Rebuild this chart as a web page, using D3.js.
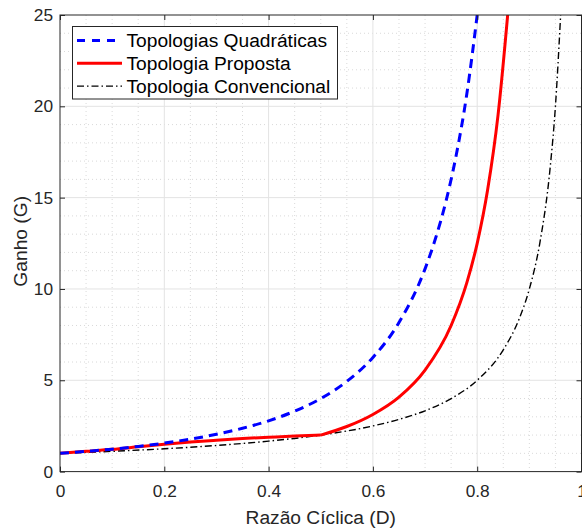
<!DOCTYPE html>
<html>
<head>
<meta charset="utf-8">
<script src="https://cdn.jsdelivr.net/npm/d3@7"></script>
<style>
  body { margin: 0; background: #fff; }
  svg { display: block; font-family: "Liberation Sans", Arial, sans-serif; }
</style>
</head>
<body>
<svg width="582" height="531"></svg>
<script>
// values
const quadD = [0, 0.05, 0.1, 0.15, 0.2, 0.25, 0.3, 0.35, 0.4, 0.45, 0.5, 0.55, 0.6, 0.65, 0.7, 0.72, 0.74, 0.76, 0.78, 0.8]
const quadG = [1, 1.11, 1.23, 1.38, 1.56, 1.78, 2.04, 2.37, 2.78, 3.31, 4.0, 4.94, 6.25, 8.16, 11.1, 12.76, 14.79, 17.36, 20.66, 25.0]

const propD = [0, 0.05, 0.1, 0.15, 0.2, 0.25, 0.3, 0.35, 0.4, 0.45, 0.5, 0.55, 0.6, 0.65, 0.7, 0.75, 0.78, 0.8, 0.82, 0.84, 0.86]
const propG = [1, 1.11, 1.22, 1.36, 1.5, 1.62, 1.72, 1.81, 1.88, 1.95, 2.0, 2.47, 3.13, 4.08, 5.56, 8.0, 10.33, 12.5, 15.43, 19.53, 25.5]

const convD = [0, 0.1, 0.2, 0.3, 0.4, 0.5, 0.6, 0.65, 0.7, 0.75, 0.8, 0.85, 0.88, 0.9, 0.92, 0.94, 0.95, 0.96]
const convG = [1, 1.11, 1.25, 1.43, 1.67, 2.0, 2.5, 2.86, 3.33, 4.0, 5.0, 6.67, 8.33, 10.0, 12.5, 16.67, 20.0, 25.0]

const xTicks = [0, 0.2, 0.4, 0.6, 0.8, 1]
const yTicks = [0, 5, 10, 15, 20, 25]
const legendLabels = ["Topologias Quadráticas", "Topologia Proposta", "Topologia Convencional"]

const svg = d3.select("svg")
const m = { left: 60, right: 581.5, top: 15, bottom: 471.6 }
const axisColor = "#262626"

const x = d3.scaleLinear().domain([0, 1]).range([m.left, m.right])
const y = d3.scaleLinear().domain([0, 25]).range([m.bottom, m.top])

// minor grid
svg.append("g").selectAll("line")
  .data(d3.range(0, 1.0001, 0.05).filter(v => Math.abs(v * 5 - Math.round(v * 5)) > 1e-6))
  .enter().append("line")
    .attr("x1", d => x(d)).attr("x2", d => x(d))
    .attr("y1", m.top).attr("y2", m.bottom)
    .attr("stroke", "#cfcfcf").attr("stroke-width", 0.8).attr("stroke-dasharray", "1,3")
svg.append("g").selectAll("line")
  .data(d3.range(0, 25.001, 1).filter(v => v % 5 !== 0))
  .enter().append("line")
    .attr("y1", d => y(d)).attr("y2", d => y(d))
    .attr("x1", m.left).attr("x2", m.right)
    .attr("stroke", "#cfcfcf").attr("stroke-width", 0.8).attr("stroke-dasharray", "1,3")

// major grid
svg.append("g").selectAll("line")
  .data(xTicks.slice(1, -1))
  .enter().append("line")
    .attr("x1", d => x(d)).attr("x2", d => x(d))
    .attr("y1", m.top).attr("y2", m.bottom)
    .attr("stroke", "#e3e3e3").attr("stroke-width", 1)
svg.append("g").selectAll("line")
  .data(yTicks.slice(1, -1))
  .enter().append("line")
    .attr("y1", d => y(d)).attr("y2", d => y(d))
    .attr("x1", m.left).attr("x2", m.right)
    .attr("stroke", "#e3e3e3").attr("stroke-width", 1)

// curves
svg.append("clipPath").attr("id", "plot")
  .append("rect").attr("x", m.left).attr("y", m.top).attr("width", m.right - m.left).attr("height", m.bottom - m.top)

const line = d3.line().x(d => x(d[0])).y(d => y(d[1])).curve(d3.curveMonotoneX)
const plot = svg.append("g").attr("clip-path", "url(#plot)")

plot.append("path")
  .datum(convD.map((d, i) => [d, convG[i]]))
  .attr("d", line).attr("fill", "none")
  .attr("stroke", "#000").attr("stroke-width", 1.4).attr("stroke-dasharray", "7,3,1.5,3")
plot.append("path")
  .datum(propD.slice(0, 11).map((d, i) => [d, propG[i]]))
  .attr("d", line).attr("fill", "none")
  .attr("stroke", "#ff0000").attr("stroke-width", 3)
plot.append("path")
  .datum(propD.slice(10).map((d, i) => [d, propG[i + 10]]))
  .attr("d", line).attr("fill", "none")
  .attr("stroke", "#ff0000").attr("stroke-width", 3)
plot.append("path")
  .datum(quadD.map((d, i) => [d, quadG[i]]))
  .attr("d", line).attr("fill", "none")
  .attr("stroke", "#0000ff").attr("stroke-width", 3).attr("stroke-dasharray", "9,6")

// box
svg.append("rect")
  .attr("x", m.left).attr("y", m.top).attr("width", m.right - m.left).attr("height", m.bottom - m.top)
  .attr("fill", "none").attr("stroke", axisColor).attr("stroke-width", 1)

// axes
const xAxis = svg.append("g").attr("transform", `translate(0,${m.bottom})`)
  .call(d3.axisBottom(x).tickValues(xTicks).tickFormat(d => d === 0 || d === 1 ? d : d.toFixed(1)).tickSize(-5).tickPadding(13))
const xAxisTop = svg.append("g").attr("transform", `translate(0,${m.top})`)
  .call(d3.axisTop(x).tickValues(xTicks).tickFormat("").tickSize(-5))
const yAxis = svg.append("g").attr("transform", `translate(${m.left},0)`)
  .call(d3.axisLeft(y).tickValues(yTicks).tickSize(-5).tickPadding(7))
const yAxisRight = svg.append("g").attr("transform", `translate(${m.right},0)`)
  .call(d3.axisRight(y).tickValues(yTicks).tickFormat("").tickSize(-5))

for (const g of [xAxis, xAxisTop, yAxis, yAxisRight]) {
  g.select(".domain").remove()
  g.selectAll(".tick line").attr("stroke", axisColor)
  g.selectAll("text").attr("fill", axisColor).attr("font-size", 17.3)
    .attr("font-family", "'Liberation Sans', Arial, sans-serif")
}

// axis titles
svg.append("text")
  .attr("x", (m.left + m.right) / 2).attr("y", 524)
  .attr("text-anchor", "middle").attr("font-size", 19.2).attr("fill", axisColor)
  .text("Razão Cíclica (D)")
svg.append("text")
  .attr("transform", `translate(27,${(m.top + m.bottom) / 2 - 2}) rotate(-90)`)
  .attr("text-anchor", "middle").attr("font-size", 19.2).attr("fill", axisColor)
  .text("Ganho (G)")

// legend
const legend = svg.append("g")
legend.append("rect")
  .attr("x", 72.5).attr("y", 26.5).attr("width", 265).attr("height", 72.5)
  .attr("fill", "#fff").attr("stroke", axisColor).attr("stroke-width", 1)

const legendStyles = [
  { color: "#0000ff", width: 3, dash: "8,7" },
  { color: "#ff0000", width: 3, dash: null },
  { color: "#000", width: 1.4, dash: "7,3,1.5,3" }
]
legendLabels.forEach((label, i) => {
  const cy = 40.5 + i * 22.8
  legend.append("line")
    .attr("x1", 77).attr("x2", 122).attr("y1", cy).attr("y2", cy)
    .attr("stroke", legendStyles[i].color).attr("stroke-width", legendStyles[i].width)
    .attr("stroke-dasharray", legendStyles[i].dash)
  legend.append("text")
    .attr("x", 126.5).attr("y", cy + 6.8)
    .attr("font-size", 19.2).attr("fill", "#000")
    .text(label)
})
</script>
</body>
</html>
